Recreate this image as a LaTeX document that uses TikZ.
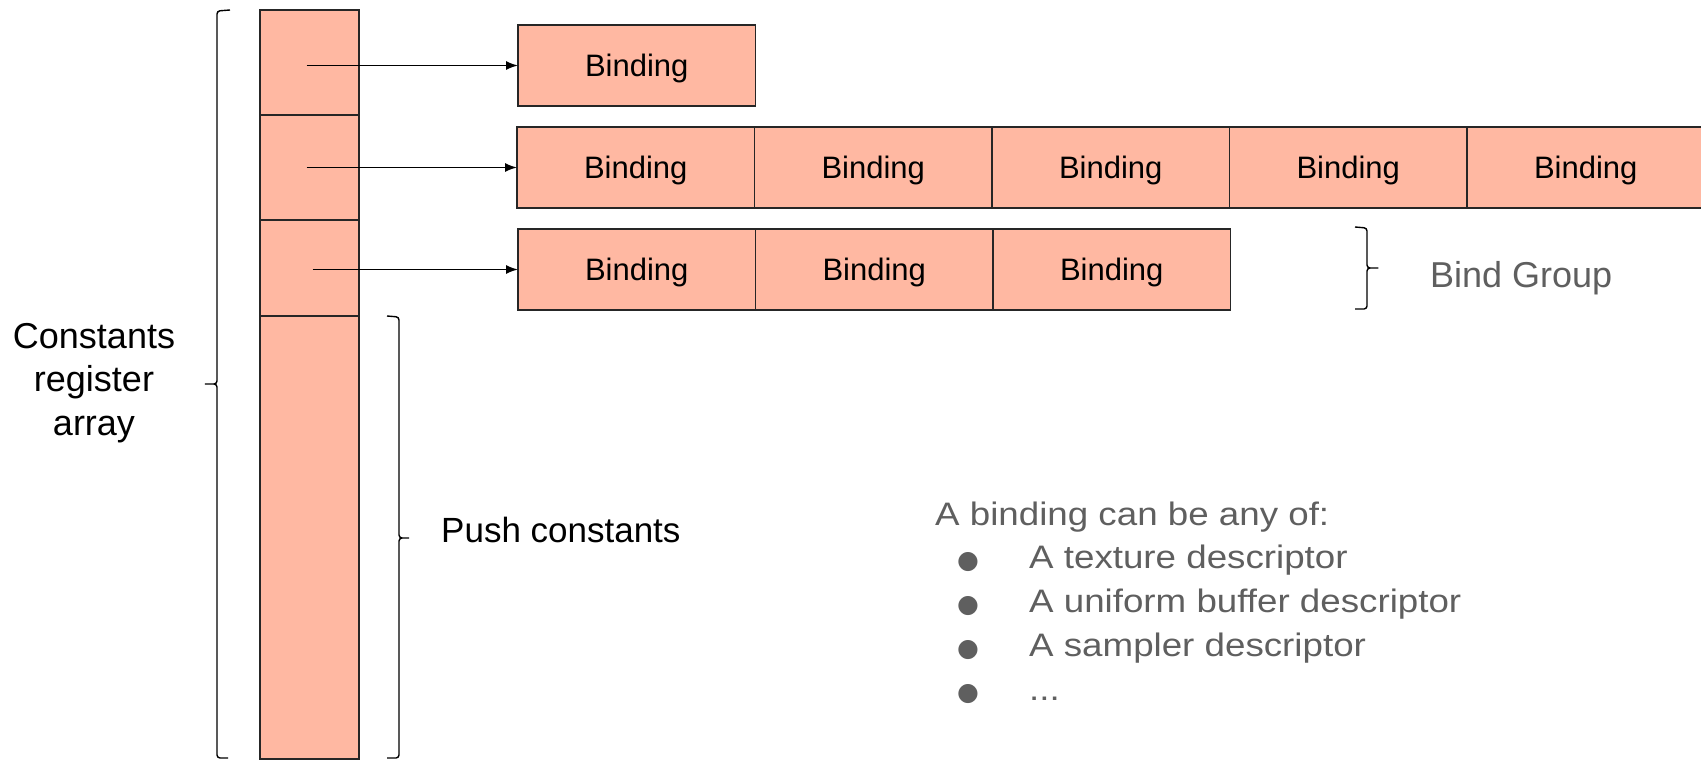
\documentclass[tikz,border=0pt]{standalone}
\usepackage{fontspec}
\setmainfont{Liberation Sans}
\newfontfamily\widefont{Liberation Sans}[FakeStretch=1.13]
\newfontfamily\dotfont{DejaVu Sans}
\usetikzlibrary{arrows.meta, calc, positioning}
\definecolor{salmon}{HTML}{FFB8A2}
\definecolor{note}{HTML}{5F5F5F}
\newcommand{\bulletitem}[1]{\hspace*{22pt}\makebox[72pt][l]{\dotfont\fontsize{25}{44}\selectfont ●}#1}
\tikzstyle{regcell} = [rectangle, draw=black!85, fill=salmon, line width=1.4pt, minimum width=99pt, outer sep=0pt, anchor=north west, inner sep=0pt]
\tikzstyle{binding} = [rectangle, draw=black!85, fill=salmon, line width=1.4pt, minimum width=237.5pt, minimum height=81pt, outer sep=0pt, inner sep=0pt, text height=22.5pt, text depth=0pt, font=\fontsize{31}{37}\selectfont, text centered]
\tikzstyle{arrow} = [line width=1.5pt, -{Latex[length=12pt,width=9pt]}]
\tikzstyle{brace} = [line width=1.4pt, rounded corners=3pt]
\begin{document}
\begin{tikzpicture}[x=1pt, y=-1pt, node distance = 0pt]
	\useasboundingbox (0,0) rectangle (1701,760);
	% register column
	\node (Reg1) [regcell, minimum height=105pt] at (260,10) {};
	\node (Reg2) [regcell, minimum height=105pt] at (260,115) {};
	\node (Reg3) [regcell, minimum height=96pt] at (260,220) {};
	\node (RegPush) [regcell, minimum height=443pt] at (260,316) {};
	% bind groups
	\node (Bind1) [binding, anchor=north west] at (518,25) {Binding};
	\node (Bind21) [binding, anchor=north west] at (517,127) {Binding};
	\node (Bind22) [binding, right = of Bind21] {Binding};
	\node (Bind23) [binding, right = of Bind22] {Binding};
	\node (Bind24) [binding, right = of Bind23] {Binding};
	\node (Bind25) [binding, right = of Bind24] {Binding};
	\node (Bind31) [binding, anchor=north west] at (518,229) {Binding};
	\node (Bind32) [binding, right = of Bind31] {Binding};
	\node (Bind33) [binding, right = of Bind32] {Binding};
	\draw [arrow] ($(Reg1.center |- Bind1.west)+(-3,0)$) -- (Bind1.west);
	\draw [arrow] ($(Reg2.center |- Bind21.west)+(-3,0)$) -- (Bind21.west);
	\draw [arrow] ($(Reg3.center |- Bind31.west)+(3,0)$) -- (Bind31.west);
	% braces
	\draw [brace] (230,10) -- (217,11) -- (217,384) -- (203,384) -- (217,384) -- (217,758) -- (228,758);
	\draw [brace] (387,316) -- (399,317) -- (399,538) -- (411,538) -- (399,538) -- (399,758) -- (387,758);
	\draw [brace] (1355,227) -- (1367,228) -- (1367,268) -- (1380,268) -- (1367,268) -- (1367,309) -- (1355,309);
	% labels
	\node (RegLabel) [align=center, font=\fontsize{36}{43.5}\selectfont, anchor=base] at (94,435) {Constants\\register\\array};
	\node (PushLabel) [font=\fontsize{35}{42}\selectfont, anchor=base west, inner sep=0pt] at (441,542) {Push constants};
	\node (GroupLabel) [font=\fontsize{36}{42}\selectfont, text=note, anchor=base west, inner sep=0pt] at (1430,287) {Bind Group};
	\node (Note) [font=\widefont\fontsize{32.5}{43.75}\selectfont, text=note, align=left, anchor=base west, inner sep=0pt] at (935,700) {%
		A binding can be any of:\\
		\bulletitem{A texture descriptor}\\
		\bulletitem{A uniform buffer descriptor}\\
		\bulletitem{A sampler descriptor}\\
		\bulletitem{...}};
\end{tikzpicture}
\end{document}
